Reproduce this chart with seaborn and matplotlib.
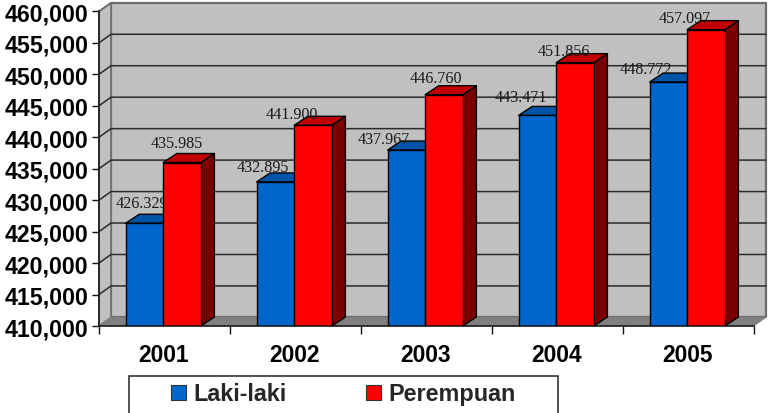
import matplotlib
matplotlib.use('Agg')
import matplotlib.pyplot as plt
import numpy as np
import pandas as pd
import seaborn as sns
from matplotlib.patches import Polygon, Rectangle
from matplotlib.ticker import FixedLocator, StrMethodFormatter

# Values
years = ['2001', '2002', '2003', '2004', '2005']
laki = [426329, 432895, 437967, 443471, 448772]
perempuan = [435985, 441900, 446760, 451856, 457097]
laki_labels = ['426.329', '432.895', '437.967', '443.471', '448.772']
perempuan_labels = ['435.985', '441.900', '446.760', '451.856', '457.097']
y_ticks = list(range(410000, 460001, 5000))

# Label nudges from the bar top, in pixels (the original is not regular)
laki_nudge = [(-3, 20), (-13, 15), (-23, 11), (-17, 18), (-23, 13)]
perempuan_nudge = [(-5, 20), (-21, 11), (-8, 17), (-11, 12), (-21, 12)]

BLUE, BLUE_TOP, BLUE_SIDE = '#0066cc', '#0054a8', '#003c78'
RED, RED_TOP, RED_SIDE = '#ff0000', '#c00000', '#7a0000'
WALL, FLOOR, WALL_EDGE = '#c0c0c0', '#808080', '#6e6e6e'

sns.set_style('white')
plt.rcParams['font.family'] = ['Liberation Sans', 'DejaVu Sans']

df = pd.DataFrame({
    'year': years * 2,
    'value': laki + perempuan,
    'sex': ['Laki-laki'] * 5 + ['Perempuan'] * 5,
})

W, H = 768, 414
fig = plt.figure(figsize=(W / 100, H / 100), dpi=100)
ax = fig.add_axes([99 / W, 1 - 327 / H, 655 / W, 314.6 / H])
ax.patch.set_alpha(0)

sns.barplot(data=df, x='year', y='value', hue='sex', hue_order=['Laki-laki', 'Perempuan'],
            palette=[BLUE, RED], width=0.574, gap=0, errorbar=None, legend=False,
            edgecolor='black', linewidth=1.0, saturation=1, ax=ax)

x0, x1 = -0.49, 4.51
y0, y1 = y_ticks[0], y_ticks[-1]
ax.set_xlim(x0, x1)
ax.set_ylim(y0, y1)

# depth of the fake 3D box and of the bars, in data units
wall_dx, wall_dy = 12 / 131, 1367
bar_dx, bar_dy = 13.6 / 131, 1430


def add_poly(pts, face, edge, lw, z):
    ax.add_patch(Polygon(pts, closed=True, facecolor=face, edgecolor=edge, linewidth=lw,
                         zorder=z, clip_on=False, joinstyle='round'))


# back wall, side wall, floor
add_poly([(x0 + wall_dx, y0 + wall_dy), (x1 + wall_dx, y0 + wall_dy),
          (x1 + wall_dx, y1 + wall_dy), (x0 + wall_dx, y1 + wall_dy)], WALL, WALL_EDGE, 1.6, 0.5)
add_poly([(x0, y0), (x0 + wall_dx, y0 + wall_dy), (x0 + wall_dx, y1 + wall_dy), (x0, y1)],
         WALL, WALL_EDGE, 1.2, 0.6)
add_poly([(x0, y0), (x1, y0), (x1 + wall_dx, y0 + wall_dy), (x0 + wall_dx, y0 + wall_dy)],
         FLOOR, FLOOR, 0.5, 0.7)

# gridlines run across the back wall and down the side wall to the ticks
for t in y_ticks[1:-1]:
    ax.plot([x0, x0 + wall_dx, x1 + wall_dx], [t, t + wall_dy, t + wall_dy],
            color='#2b2b2b', lw=1.1, zorder=1, clip_on=False, solid_joinstyle='miter')
ax.plot([x0, x0 + wall_dx], [y1, y1 + wall_dy], color=WALL_EDGE, lw=1.2, zorder=1, clip_on=False)

# extrude each bar and put its label on
series = [
    (ax.containers[0], laki, laki_labels, laki_nudge, BLUE_TOP, BLUE_SIDE, 3),
    (ax.containers[1], perempuan, perempuan_labels, perempuan_nudge, RED_TOP, RED_SIDE, 5),
]
for bars, vals, labels, nudges, top_c, side_c, z in series:
    for p, v, lab, nudge in zip(bars.patches, vals, labels, nudges):
        left, right = p.get_x(), p.get_x() + p.get_width()
        p.set_zorder(z + 0.2)
        add_poly([(right, y0), (right + bar_dx, y0 + bar_dy), (right + bar_dx, v + bar_dy), (right, v)],
                 side_c, 'black', 1.0, z)
        add_poly([(left, v), (right, v), (right + bar_dx, v + bar_dy), (left + bar_dx, v + bar_dy)],
                 top_c, 'black', 1.0, z + 0.1)
        # blue labels end up behind the red bars, like in the original
        ax.annotate(lab, xy=((left + right) / 2, v), xytext=nudge, textcoords='offset pixels',
                    ha='center', va='center', fontsize=11.6, color='#1a1a1a',
                    family='Liberation Serif', zorder=z + 0.5, annotation_clip=False)

# axes
sns.despine(ax=ax, top=True, right=True)
for s in ('left', 'bottom'):
    ax.spines[s].set_color('#111111')
    ax.spines[s].set_linewidth(1.1)
    ax.spines[s].set_zorder(8)
ax.yaxis.set_major_locator(FixedLocator(y_ticks))
ax.yaxis.set_major_formatter(StrMethodFormatter('{x:,.0f}'))
ax.xaxis.set_minor_locator(FixedLocator(x0 + np.arange(len(years) + 1)))
ax.tick_params(axis='y', which='major', left=True, length=5, width=1, color='#111111', pad=2.5,
               labelsize=16.7, labelcolor='black')
ax.tick_params(axis='x', which='major', bottom=False, pad=9, labelsize=16.4, labelcolor='black')
ax.tick_params(axis='x', which='minor', bottom=True, length=5.4, width=1, color='#111111')
for lab in ax.get_xticklabels() + ax.get_yticklabels():
    lab.set_fontweight('bold')
ax.set_xlabel('')
ax.set_ylabel('')

# legend sits in a box cut off by the lower edge of the figure
fig.add_artist(Rectangle((128.5 / W, -0.02), 429 / W, (H - 376.5) / H + 0.02, transform=fig.transFigure,
                         facecolor='white', edgecolor='#222222', linewidth=1.1, clip_on=False))
handles = [Rectangle((0, 0), 1, 1, facecolor=BLUE, edgecolor='#333333', linewidth=0.8),
           Rectangle((0, 0), 1, 1, facecolor=RED, edgecolor='#333333', linewidth=0.8)]
leg = fig.legend(handles, ['Laki-laki', 'Perempuan'], ncol=2, frameon=False, loc='center left',
                 bbox_to_anchor=(171 / W, 1 - 395 / H), borderpad=0, borderaxespad=0,
                 handlelength=0.64, handleheight=0.64, handletextpad=0.3, columnspacing=3.42,
                 prop={'family': 'Liberation Sans', 'weight': 'bold', 'size': 16.8})

fig.savefig('out.png', dpi=100, facecolor='white')
